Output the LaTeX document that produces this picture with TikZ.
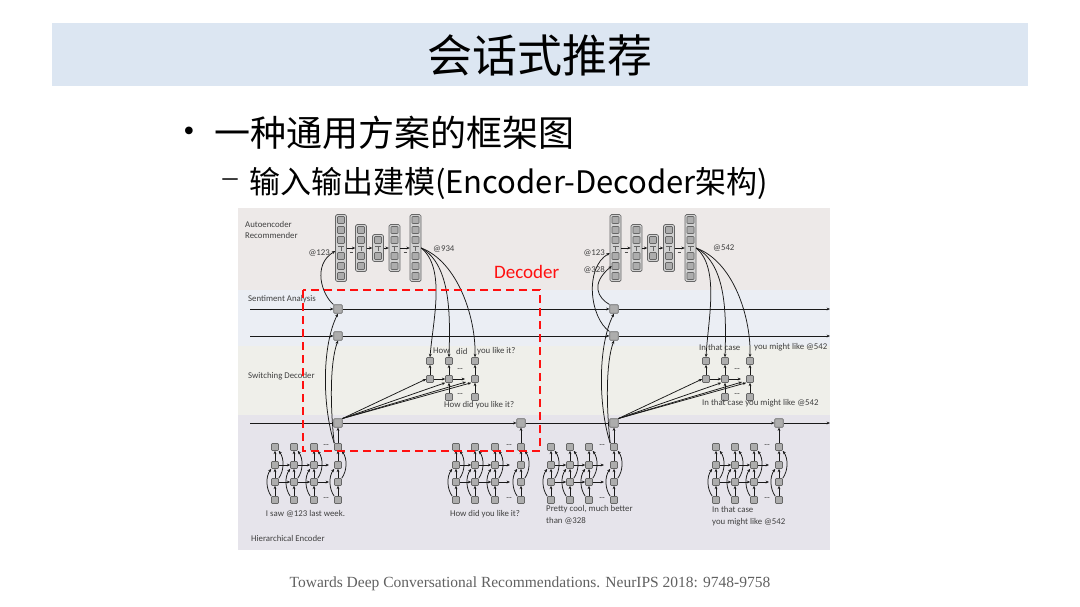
\documentclass[tikz,border=0pt]{standalone}
\usepackage{fontspec}
\setmainfont{Liberation Serif}
\newfontfamily\cjk{Noto Sans CJK SC}
\newfontfamily\cali{Carlito}
\usetikzlibrary{arrows.meta}
\definecolor{titleblue}{HTML}{DCE6F2}
\definecolor{aeband}{HTML}{EDE9E8}
\definecolor{saband}{HTML}{EBEEF4}
\definecolor{sdband}{HTML}{EFEFEA}
\definecolor{heband}{HTML}{E6E4EB}
\definecolor{redline}{HTML}{FF1010}
\tikzset{
  wsq/.style={draw=black!60, fill=black!32, rounded corners=0.8pt, minimum size=7pt, inner sep=0pt, line width=0.55pt},
  bsq/.style={wsq, minimum size=8.5pt},
  aeframe/.style={draw=black!60, fill=black!18, rounded corners=1.5pt, minimum width=11pt, inner sep=0pt, line width=0.7pt},
  tslot/.style={minimum width=11pt, minimum height=4pt, inner sep=0pt},
  arr/.style={-{Stealth[length=3.4pt,width=2.8pt]}, line width=0.75pt, draw=black!90},
  ln/.style={line width=0.75pt, draw=black!90},
  lbl/.style={font=\cali\fontsize{8.8}{10.5}\selectfont, text=black!75, inner sep=0pt},
}
% autoencoder column: name, x, k
\newcommand\aecol[3]{%
  \node[aeframe, minimum height={27+20*(#3-1)}] (#1) at (#2,248) {};
  \node[tslot] (#1t) at (#2,248) {};
  \draw[black!60, line width=0.6pt] ({#2-3},246) -- ({#2+3},246) ({#2},246) -- ({#2},250.5);
  \foreach \i in {1,...,#3}{%
    \node[wsq] (#1a\i) at (#2,{240-10*(\i-1)}) {};
    \node[wsq] (#1b\i) at (#2,{256+10*(\i-1)}) {};
  }
}
% encoder block: name, x1..x4, end x of the row arrows
\newcommand\encblock[6]{%
  \foreach \c/\x in {1/#2,2/#3,3/#4,4/#5}{%
    \foreach \r/\y in {1/447,2/465,3/482,4/500}{%
      \node[wsq] (#1-\c-\r) at (\x,\y) {};
    }
    \draw[arr] (#1-\c-4) -- (#1-\c-3);
    \draw[arr] (#1-\c-3) -- (#1-\c-2);
    \draw[arr] (#1-\c-2) -- (#1-\c-1);
    \draw[arr] (#1-\c-4.north west) to[out=125,in=235,looseness=0.9] (#1-\c-2.south west);
    \draw[arr] (#1-\c-3.north east) to[out=55,in=-55,looseness=0.9] (#1-\c-1.south east);
  }
  \foreach \r/\y in {2/465,3/482}{%
    \draw[arr] (#1-1-\r) -- (#1-2-\r);
    \draw[arr] (#1-2-\r) -- (#1-3-\r);
    \coordinate (#1-end-\r) at (#6,\y);
    \draw[arr] (#1-3-\r) -- (#1-end-\r);
  }
  \node[lbl] (#1-dt) at ({#5-12},446) {--};
  \node[lbl] (#1-db) at ({#5-12},499) {--};
}
% decoder block: name, x1, x2, x3, dots x, arrow end x
\newcommand\decblock[6]{%
  \foreach \i/\x in {1/#2,2/#3,3/#4}{%
    \node[wsq] (#1t\i) at (\x,361) {};
    \node[wsq] (#1m\i) at (\x,379) {};
    \draw[arr] (#1m\i) -- (#1t\i);
  }
  \foreach \i/\x in {2/#3,3/#4}{%
    \node[wsq] (#1b\i) at (\x,397) {};
    \draw[arr] (#1b\i) -- (#1m\i);
  }
  \draw[arr] (#1m1) -- (#1m2);
  \coordinate (#1end) at (#6,379);
  \draw[arr] (#1m2) -- (#1end);
  \node[lbl] (#1dt) at (#5,370) {--};
  \node[lbl] (#1db) at (#5,395) {--};
}
\begin{document}
\begin{tikzpicture}[x=1pt,y=-1pt]
\useasboundingbox (0,0) rectangle (1080,606);
\fill[white] (0,0) rectangle (1080,606);

% ---------- slide title and bullets ----------
\node[fill=titleblue, minimum width=976pt, minimum height=63pt, inner sep=0pt] (band) at (540,54.5) {};
\node[font=\cjk\fontsize{45}{50}\selectfont] (title) at (540,55) {会话式推荐};
\node[font=\fontsize{32}{32}\selectfont] (bul) at (189,134) {•};
\node[font=\cjk\fontsize{36}{40}\selectfont, anchor=west, inner sep=0pt] (b1) at (214,133) {一种通用方案的框架图};
\node[font=\fontsize{30}{30}\selectfont, inner sep=0pt] (dash) at (230,183) {–};
\node[font=\cjk\fontsize{31}{34}\selectfont, anchor=west, inner sep=0pt] (b2) at (249,183) {输入输出建模(Encoder-Decoder架构)};
\node[font=\fontsize{15.5}{18}\selectfont, text=black!62] (cite) at (530,584) {Towards Deep Conversational Recommendations. NeurIPS 2018: 9748-9758};

% ---------- figure bands ----------
\fill[aeband] (238,208) rectangle (830,290);
\fill[saband] (238,290) rectangle (830,346);
\fill[sdband] (238,346) rectangle (830,415);
\fill[heband] (238,415) rectangle (830,550);

% band labels
\node[lbl, anchor=west, align=left] (lae) at (245,230) {Autoencoder\\Recommender};
\node[lbl, anchor=west] (lsa) at (248,299) {Sentiment Analysis};
\node[lbl, anchor=west] (lsd) at (248,376) {Switching Decoder};
\node[lbl, anchor=west] (lhe) at (251,538) {Hierarchical Encoder};

% ---------- autoencoders ----------
\aecol{a1c1}{341}{3}
\aecol{a1c2}{361}{2}
\aecol{a1c3}{378}{1}
\aecol{a1c4}{394.5}{2}
\aecol{a1c5}{415.5}{3}
\draw[arr] (a1c1t.east) -- (a1c2t.west);
\draw[arr] (a1c2t.east) -- (a1c3t.west);
\draw[arr] (a1c3t.east) -- (a1c4t.west);
\draw[arr] (a1c4t.east) -- (a1c5t.west);
\draw[black!70, line width=0.6pt] (349.5,252) -- (352.5,252) (403.5,252) -- (406.5,252);

\aecol{a2c1}{615.5}{3}
\aecol{a2c2}{636.5}{2}
\aecol{a2c3}{653}{1}
\aecol{a2c4}{669}{2}
\aecol{a2c5}{690.5}{3}
\draw[arr] (a2c1t.east) -- (a2c2t.west);
\draw[arr] (a2c2t.east) -- (a2c3t.west);
\draw[arr] (a2c3t.east) -- (a2c4t.west);
\draw[arr] (a2c4t.east) -- (a2c5t.west);
\draw[black!70, line width=0.6pt] (624.5,252) -- (627.5,252) (677.5,252) -- (680.5,252);

\node[lbl, anchor=east] (l123a) at (330,253) {@123};
\node[lbl, anchor=west] (l934) at (433,249) {@934};
\node[lbl, anchor=east] (l123b) at (605,253) {@123};
\node[lbl, anchor=east] (l328) at (605,270) {@328};
\node[lbl, anchor=west] (l542) at (713,248) {@542};

% ---------- sentiment analysis ----------
\node[bsq] (sn1) at (338,309) {};
\node[bsq] (sn2) at (338,336) {};
\node[bsq] (sn3) at (614,309) {};
\node[bsq] (sn4) at (614,336) {};
\coordinate (saL1) at (250,309); \coordinate (saR1) at (830,309);
\coordinate (saL2) at (250,336); \coordinate (saR2) at (830,336);
\draw[arr] (saL1) -- (sn1); \draw[arr] (sn1) -- (sn3); \draw[arr] (sn3) -- (saR1);
\draw[arr] (saL2) -- (sn2); \draw[arr] (sn2) -- (sn4); \draw[arr] (sn4) -- (saR2);

% ---------- hierarchical encoder ----------
\node[bsq] (s1) at (338,423) {};
\node[bsq] (s2) at (521,423) {};
\node[bsq] (s3) at (614,423) {};
\node[bsq] (s4) at (779,423) {};
\coordinate (heL) at (250,423); \coordinate (heR) at (830,423);
\draw[ln] (heL) -- (s1); \draw[arr] (s1) -- (s2); \draw[ln] (s2) -- (s3);
\draw[arr] (s3) -- (s4); \draw[arr] (s4) -- (heR);

\encblock{e1}{275}{294}{314}{338}{329}
\encblock{e2}{456}{475}{495}{521}{510}
\encblock{e3}{551}{570}{589}{614}{604}
\encblock{e4}{716}{735}{754}{779}{769}
\draw[arr] (e1-4-1) -- (s1);
\draw[arr] (e2-4-1) -- (s2);
\draw[arr] (e3-4-1) -- (s3);
\draw[arr] (e4-4-1) -- (s4);

\node[lbl] (u1) at (305.5,514) {I saw @123 last week.};
\node[lbl] (u2) at (485,514) {How did you like it?};
\node[lbl, anchor=north west, align=left, font=\cali\fontsize{8.8}{12}\selectfont] (u3) at (546,505) {Pretty cool, much better\\than @328};
\node[lbl, anchor=north west, align=left, font=\cali\fontsize{8.8}{12}\selectfont] (u4) at (712,506) {In that case\\you might like @542};

% ---------- switching decoders ----------
\decblock{d1}{430}{449}{475}{460}{465}
\decblock{d2}{706}{725}{750}{737}{741}
\node[lbl, anchor=west] (w1) at (433,351) {How};
\node[lbl, anchor=west] (w2) at (456,351) {did};
\node[lbl, anchor=west] (w3) at (477,351) {you like it?};
\node[lbl, anchor=west] (w4) at (444,405) {How did you like it?};
\node[lbl, anchor=west] (v1) at (699,347) {In that case};
\node[lbl, anchor=west] (v2) at (754,347) {you might like @542};
\node[lbl, anchor=west] (v3) at (702,403) {In that case you might like @542};

\coordinate (d1f) at (466,382);
\coordinate (d2f) at (742,382);
\draw[arr] (s1.north east) -- (d1m1.west);
\draw[arr] (s1.north east) -- (d1m2.south west);
\draw[arr] (s1.north east) -- (d1f);
\draw[arr] (s1.north east) -- (d1m3.south west);
\draw[arr] (s3.north east) -- (d2m1.west);
\draw[arr] (s3.north east) -- (d2m2.south west);
\draw[arr] (s3.north east) -- (d2f);
\draw[arr] (s3.north east) -- (d2m3.south west);

% autoencoder outputs into decoders
\draw[arr] (a1c5t.east) .. controls (446,268) and (433,320) .. (d1t1.north);
\draw[arr] (a1c5t.east) .. controls (452,265) and (450,320) .. (d1t2.north);
\draw[arr] (a1c5t.east) .. controls (458,262) and (476,318) .. (d1t3.north);
\draw[arr] (a2c5t.east) .. controls (720,268) and (708,320) .. (d2t1.north);
\draw[arr] (a2c5t.east) .. controls (728,265) and (726,320) .. (d2t2.north);
\draw[arr] (a2c5t.east) .. controls (734,262) and (751,318) .. (d2t3.north);

% sentiment into autoencoders
\draw[arr] (sn1.north west) .. controls (322,295) and (312,265) .. ([yshift=-3pt]a1c1t.west);
\draw[arr] (sn4.north west) .. controls (590,318) and (584,268) .. ([yshift=-5pt]a2c1t.west);
\draw[arr] (sn3.north west) .. controls (598,298) and (590,284) .. (a2c1b2.west);

% encoder into sentiment
\draw[arr] (e1-4-1.north west) .. controls (322,405) and (322,345) .. (sn1.south);
\draw[arr] (e1-4-1.north west) .. controls (330,405) and (330,362) .. (sn2.south);
\draw[arr] (e3-4-1.north west) .. controls (598,405) and (598,345) .. (sn3.south);
\draw[arr] (e3-4-1.north west) .. controls (606,405) and (606,362) .. (sn4.south);

% ---------- decoder highlight ----------
\draw[redline, line width=2pt, dash pattern=on 8pt off 5pt] (303,290) rectangle (540,451);
\node[font=\cali\fontsize{19}{22}\selectfont, text=redline, anchor=west, inner sep=0pt] (dec) at (494,272) {Decoder};
\end{tikzpicture}
\end{document}
